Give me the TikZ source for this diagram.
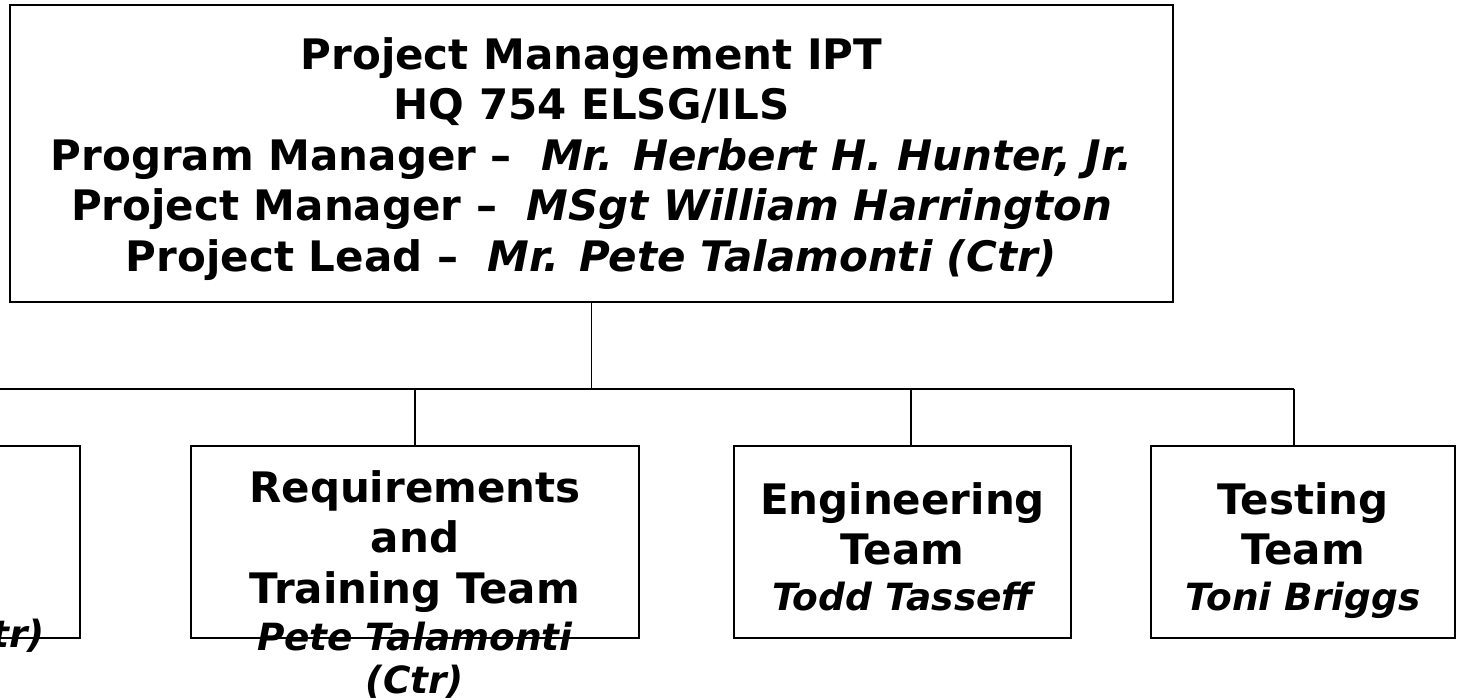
\documentclass[tikz,border=0pt]{standalone}
\usepackage{fontspec}
\setmainfont{DejaVu Sans}
\newcommand\teamlead[1]{{\fontsize{28.1}{34}\selectfont\itshape #1}}
\begin{document}
\begin{tikzpicture}[x=0.75pt,y=0.75pt,yscale=-1,xscale=1,
  teambox/.style={draw, line width=1.5pt, inner sep=0pt},
  teamtext/.style={anchor=north, inner sep=0pt, align=center, font=\fontsize{31.5}{37.9}\selectfont\bfseries},
  link/.style={draw, line width=1pt}]
\path [use as bounding box] (0,0) rectangle (1459,697);
\clip (0,0) rectangle (1459,697);

%Shape: Rectangle [pmo]
\node [teambox, minimum width=872.25pt, minimum height=222.75pt] (pmo) at (591.5,153.5) {};
%Shape: Rectangle [leftbox]
\node [teambox, minimum width=336pt, minimum height=144pt] (leftbox) at (-144.5,542) {};
%Shape: Rectangle [reqbox]
\node [teambox, minimum width=336pt, minimum height=144pt] (reqbox) at (415,542) {};
%Shape: Rectangle [engbox]
\node [teambox, minimum width=252.75pt, minimum height=144pt] (engbox) at (902.5,542) {};
%Shape: Rectangle [testbox]
\node [teambox, minimum width=228pt, minimum height=144pt] (testbox) at (1303,542) {};

%Connectors
\coordinate (bus) at (591.5,389);
\coordinate (engtop) at ([xshift=6.375pt]engbox.north);
\coordinate (testtop) at ([xshift=-6.75pt]testbox.north);
\draw [link] (pmo.south) -- (bus);
\draw [link] (leftbox.north |- bus) -- (testtop |- bus);
\draw [link] (leftbox.north) -- (leftbox.north |- bus);
\draw [link] (reqbox.north) -- (reqbox.north |- bus);
\draw [link] (engtop) -- (engtop |- bus);
\draw [link] (testtop) -- (testtop |- bus);

% Text Node
\node [teamtext] (pmotext) at (591.5,37) {Project Management IPT\\HQ 754 ELSG/ILS\\Program Manager –\ \ \textit{Mr. Herbert H. Hunter, Jr.}\\Project Manager –\ \ \textit{MSgt William Harrington}\\Project Lead –\ \ \textit{Mr. Pete Talamonti (Ctr)}};
% Text Node
\node [teamtext] (reqtext) at (415,470) {Requirements\\and\\Training Team\\[-2.65pt]\teamlead{Pete Talamonti}\\[-5.65pt]\teamlead{(Ctr)}};
% Text Node
\node [teamtext] (engtext) at (902.5,482) {Engineering\\Team\\[-3.8pt]\teamlead{Todd Tasseff}};
% Text Node
\node [teamtext] (testtext) at (1303,482) {Testing\\Team\\[-3.8pt]\teamlead{Toni Briggs}};
% Text Node
\node [anchor=base east, inner sep=0pt, font=\bfseries] (lefttext) at (45,647) {\teamlead{tr)}};

\end{tikzpicture}
\end{document}
